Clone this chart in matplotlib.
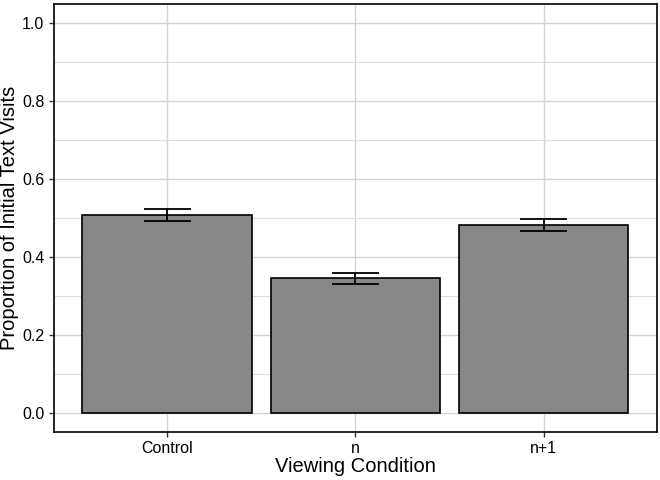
import matplotlib.pyplot as plt
from matplotlib.ticker import MultipleLocator

# dados
condicoes = ["Control", "n", "n+1"]
proporcao = [0.508, 0.346, 0.482]
erro_inf = [0.493, 0.331, 0.466]
erro_sup = [0.522, 0.359, 0.497]

plt.rcParams["font.family"] = ["Liberation Sans", "DejaVu Sans"]

fig, ax = plt.subplots(figsize=(6.6, 4.8), dpi=100)
fig.subplots_adjust(left=0.082, right=0.995, top=0.992, bottom=0.1)

x = list(range(1, len(condicoes) + 1))
ax.bar(x, proporcao, width=0.9, color="#888888", edgecolor="black", linewidth=1.2, zorder=2)

# barras de erro com hastes horizontais
for xi, lo, hi in zip(x, erro_inf, erro_sup):
    ax.vlines(xi, lo, hi, color="black", linewidth=1.3, zorder=3)
    ax.hlines([lo, hi], xi - 0.125, xi + 0.125, color="black", linewidth=1.3, zorder=3)

ax.set_xlim(0.4, 3.6)
ax.set_ylim(-0.05, 1.05)
ax.set_xticks(x)
ax.set_xticklabels(condicoes)
ax.yaxis.set_major_locator(MultipleLocator(0.2))
ax.yaxis.set_minor_locator(MultipleLocator(0.1))
ax.yaxis.set_major_formatter(lambda v, p: f"{v:.1f}")

ax.grid(True, which="major", color="#d4d4d4", linewidth=1.0, zorder=0)
ax.grid(True, which="minor", axis="y", color="#dedede", linewidth=0.8, zorder=0)
ax.set_axisbelow(True)
ax.tick_params(which="minor", length=0)
ax.tick_params(which="major", length=3.5, width=1, color="#333333", labelsize=11.5, labelcolor="black")
ax.tick_params(axis="x", pad=3)
for s in ax.spines.values():
    s.set_linewidth(1.2)
    s.set_color("black")

ax.set_xlabel("Viewing Condition", fontsize=14.5, labelpad=1)
ax.set_ylabel("Proportion of Initial Text Visits", fontsize=14.5)
ax.yaxis.set_label_coords(-0.058, 0.5)

fig.savefig("out.png", dpi=100)
